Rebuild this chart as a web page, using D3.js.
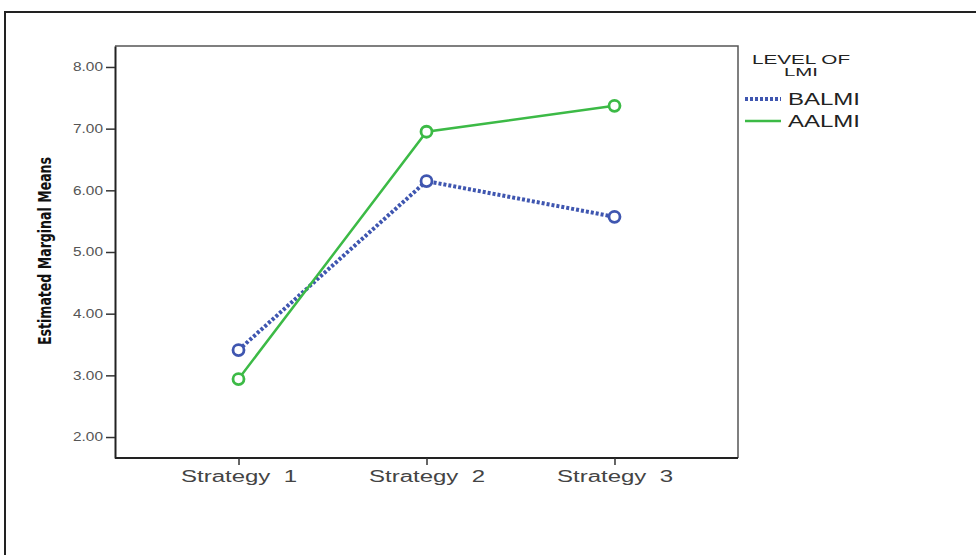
<!DOCTYPE html>
<html><head><meta charset="utf-8">
<script src="https://cdn.jsdelivr.net/npm/d3@7/dist/d3.min.js"></script>
<style>body{margin:0;background:#fff}svg{display:block}</style>
</head><body>
<svg id="c" width="976" height="555"></svg>
<script>
const categories = ["Strategy  1", "Strategy  2", "Strategy  3"];
const seriesNames = ["BALMI", "AALMI"];
const balmi = [3.41, 6.15, 5.57];
const aalmi = [2.94, 6.95, 7.37];
const yTicks = [2, 3, 4, 5, 6, 7, 8];
const yTickLabels = ["2.00", "3.00", "4.00", "5.00", "6.00", "7.00", "8.00"];

const svg = d3.select("#c");
// outer frame
svg.append("path").attr("d", "M5,556 L5,12 L980,12").attr("fill", "none").attr("stroke", "#222").attr("stroke-width", 2);

const L = 115, R = 738, T = 46, B = 458;
const x = d3.scalePoint().domain(categories).range([L, R]).padding(0.657);
const y = d3.scaleLinear().domain([1.66, 8.34]).range([B, T]);

// plot frame (top/right thin)
svg.append("path").attr("d", `M${L},${T} L${R},${T} L${R},${B}`).attr("fill", "none").attr("stroke", "#555").attr("stroke-width", 1.5);

const lf = "Liberation Sans, Arial, sans-serif";
const yAxis = d3.axisLeft(y).tickValues(yTicks).tickFormat((d, i) => yTickLabels[i]).tickSize(9).tickSizeOuter(0);
const gy = svg.append("g").attr("transform", `translate(${L},0)`).call(yAxis);
gy.select(".domain").attr("stroke", "#222").attr("stroke-width", 2);
gy.selectAll(".tick line").attr("stroke", "#333").attr("stroke-width", 1.5);
gy.selectAll(".tick text").attr("font-family", lf).attr("font-size", 12).attr("fill", "#555").attr("x", -12)
  .attr("textLength", 30).attr("lengthAdjust", "spacingAndGlyphs");

const xAxis = d3.axisBottom(x).tickSize(7).tickSizeOuter(0);
const gx = svg.append("g").attr("transform", `translate(0,${B})`).call(xAxis);
gx.select(".domain").attr("stroke", "#222").attr("stroke-width", 2).attr("d", `M${L},0H${R}`);
gx.selectAll(".tick line").attr("stroke", "#333").attr("stroke-width", 1.5);
gx.selectAll(".tick text").attr("font-family", lf).attr("font-size", 16).attr("fill", "#444").attr("y", 13)
  .attr("textLength", 116).attr("lengthAdjust", "spacingAndGlyphs").attr("xml:space", "preserve");

// y title
svg.append("text").attr("transform", `translate(51,251) rotate(-90)`)
  .attr("text-anchor", "middle").attr("font-family", "DejaVu Sans Condensed, DejaVu Sans, sans-serif")
  .attr("font-weight", "bold").attr("font-stretch", "condensed").attr("font-size", 17).attr("fill", "#111")
  .attr("textLength", 188).attr("lengthAdjust", "spacingAndGlyphs")
  .text("Estimated Marginal Means");

const colors = ["#3f56b0", "#3cba46"];
const data = [balmi, aalmi];
const line = d3.line().x((d, i) => x(categories[i])).y(d => y(d));

data.forEach((vals, s) => {
  svg.append("path").datum(vals).attr("d", line).attr("fill", "none")
    .attr("stroke", colors[s]).attr("stroke-width", s === 0 ? 4 : 2.5)
    .attr("stroke-dasharray", s === 0 ? "3,2" : null);
});
data.forEach((vals, s) => {
  svg.selectAll(null).data(vals).enter().append("circle")
    .attr("cx", (d, i) => x(categories[i])).attr("cy", d => y(d)).attr("r", 5.5)
    .attr("fill", "#fff").attr("stroke", colors[s]).attr("stroke-width", 2.8);
});

// legend
svg.append("text").attr("x", 801).attr("y", 64).attr("text-anchor", "middle").attr("font-family", lf).attr("font-size", 13).attr("fill", "#222")
  .attr("textLength", 98).attr("lengthAdjust", "spacingAndGlyphs").text("LEVEL OF");
svg.append("text").attr("x", 801).attr("y", 76).attr("text-anchor", "middle").attr("font-family", lf).attr("font-size", 11).attr("fill", "#222")
  .attr("textLength", 34).attr("lengthAdjust", "spacingAndGlyphs").text("LMI");
seriesNames.forEach((n, s) => {
  const ly = 99 + s * 22;
  svg.append("line").attr("x1", 745).attr("x2", 781).attr("y1", ly).attr("y2", ly)
    .attr("stroke", colors[s]).attr("stroke-width", s === 0 ? 4 : 2.5).attr("stroke-dasharray", s === 0 ? "3,2" : null);
  svg.append("text").attr("x", 788).attr("y", ly + 6).attr("font-family", lf).attr("font-size", 16).attr("fill", "#222")
    .attr("textLength", 72).attr("lengthAdjust", "spacingAndGlyphs").text(n);
});
</script>
</body></html>
